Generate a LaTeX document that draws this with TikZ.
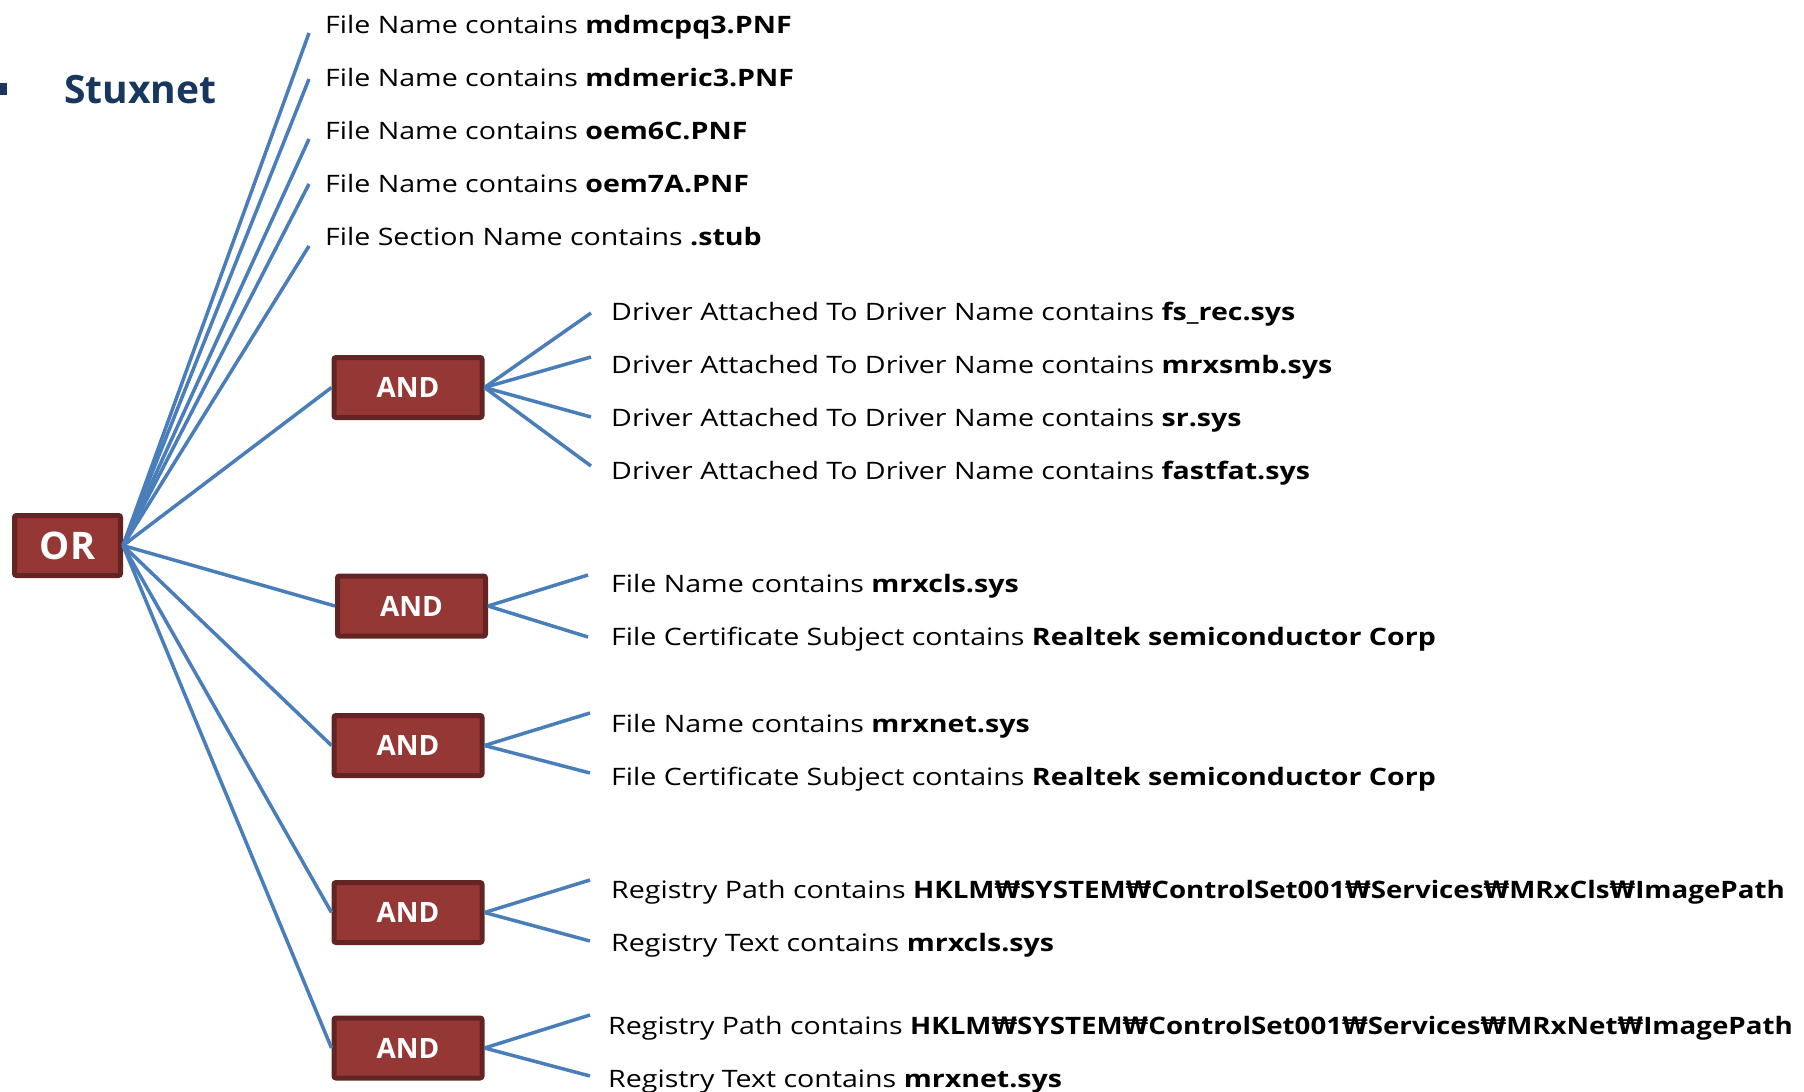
\documentclass[tikz,border=0pt]{standalone}
\usepackage{fontspec}
\setmainfont{Open Sans}
\newfontfamily\condfont{Open Sans}[FakeStretch=1.19]
\newfontfamily\wonfont{DejaVu Sans}
\newcommand{\W}{{\wonfont ₩}}
\newcommand{\regpath}[1]{\scalebox{0.97}[1]{\textbf{#1}}}
\definecolor{gatefill}{HTML}{953735}
\definecolor{gateedge}{HTML}{632523}
\definecolor{wireblue}{HTML}{4A7EBB}
\definecolor{headblue}{HTML}{17375E}

\begin{document}
\begin{tikzpicture}[x=1pt,y=-1pt,
  gate/.style={draw=gateedge,line width=5pt,fill=gatefill,rounded corners=2pt,
    text=white,font=\fontsize{28}{32}\selectfont\bfseries,
    minimum width=148pt,minimum height=60pt,inner sep=0pt},
  cond/.style={anchor=base west,inner sep=0pt,font=\condfont\fontsize{24}{28}\selectfont},
  wire/.style={draw=wireblue,line width=3.5pt}]
\useasboundingbox (0,0) rectangle (1804,1092);

% heading
\fill[headblue] (-5,83) rectangle (7,95);
\node[anchor=base west,inner sep=0pt,text=headblue,font=\fontsize{39}{44}\selectfont\bfseries] (head) at (64,103) {Stuxnet};

% gates
\node[gate,minimum width=106pt,font=\fontsize{38}{42}\selectfont\bfseries] (or) at (67.5,545.5) {OR};
\node[gate] (and1) at (408,387.5) {AND};
\node[gate] (and2) at (411.5,606) {AND};
\node[gate] (and3) at (408,745.5) {AND};
\node[gate] (and4) at (408,912.5) {AND};
\node[gate] (and5) at (408,1048) {AND};

% conditions
\node[cond] (f1) at (325,33) {File Name contains \textbf{mdmcpq3.PNF}};
\node[cond] (f2) at (325,86) {File Name contains \textbf{mdmeric3.PNF}};
\node[cond] (f3) at (325,139) {File Name contains \textbf{oem6C.PNF}};
\node[cond] (f4) at (325,192) {File Name contains \textbf{oem7A.PNF}};
\node[cond] (f5) at (325,245) {File Section Name contains \textbf{.stub}};

\node[cond] (d1) at (611,320) {Driver Attached To Driver Name contains \textbf{fs\_rec.sys}};
\node[cond] (d2) at (611,373) {Driver Attached To Driver Name contains \textbf{mrxsmb.sys}};
\node[cond] (d3) at (611,426) {Driver Attached To Driver Name contains \textbf{sr.sys}};
\node[cond] (d4) at (611,479) {Driver Attached To Driver Name contains \textbf{fastfat.sys}};

\node[cond] (c1) at (611,592) {File Name contains \textbf{mrxcls.sys}};
\node[cond] (c2) at (611,645) {File Certificate Subject contains \textbf{Realtek semiconductor Corp}};

\node[cond] (n1) at (611,732) {File Name contains \textbf{mrxnet.sys}};
\node[cond] (n2) at (611,785) {File Certificate Subject contains \textbf{Realtek semiconductor Corp}};

\node[cond] (r1) at (611,898) {Registry Path contains \regpath{HKLM\W SYSTEM\W ControlSet001\W Services\W MRxCls\W ImagePath}};
\node[cond] (r2) at (611,951) {Registry Text contains \textbf{mrxcls.sys}};

\node[cond] (s1) at (608,1034) {Registry Path contains \regpath{HKLM\W SYSTEM\W ControlSet001\W Services\W MRxNet\W ImagePath}};
\node[cond] (s2) at (608,1087) {Registry Text contains \textbf{mrxnet.sys}};

% wire ends
\coordinate (ef1) at (309,33);
\coordinate (ef2) at (309,79);
\coordinate (ef3) at (309,139);
\coordinate (ef4) at (309,184);
\coordinate (ef5) at (309,246);
\coordinate (ed1) at (591,313);
\coordinate (ed2) at (591,357);
\coordinate (ed3) at (591,417);
\coordinate (ed4) at (591,466);
\coordinate (ec1) at (588,575);
\coordinate (ec2) at (588,637);
\coordinate (en1) at (590,713);
\coordinate (en2) at (590,773);
\coordinate (er1) at (590,880);
\coordinate (er2) at (590,941);
\coordinate (es1) at (590,1015);
\coordinate (es2) at (590,1076);

% wires
\draw[wire] (or.east) -- (ef1);
\draw[wire] (or.east) -- (ef2);
\draw[wire] (or.east) -- (ef3);
\draw[wire] (or.east) -- (ef4);
\draw[wire] (or.east) -- (ef5);
\draw[wire] (or.east) -- (and1.west);
\draw[wire] (or.east) -- (and2.west);
\draw[wire] (or.east) -- (and3.west);
\draw[wire] (or.east) -- (and4.west);
\draw[wire] (or.east) -- (and5.west);
\draw[wire] (and1.east) -- (ed1);
\draw[wire] (and1.east) -- (ed2);
\draw[wire] (and1.east) -- (ed3);
\draw[wire] (and1.east) -- (ed4);
\draw[wire] (and2.east) -- (ec1);
\draw[wire] (and2.east) -- (ec2);
\draw[wire] (and3.east) -- (en1);
\draw[wire] (and3.east) -- (en2);
\draw[wire] (and4.east) -- (er1);
\draw[wire] (and4.east) -- (er2);
\draw[wire] (and5.east) -- (es1);
\draw[wire] (and5.east) -- (es2);
\end{tikzpicture}
\end{document}
